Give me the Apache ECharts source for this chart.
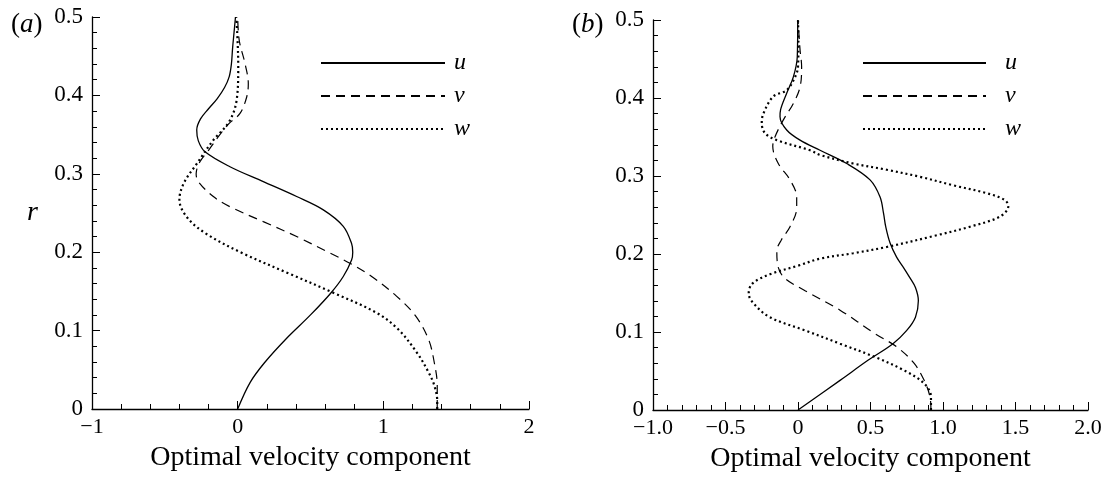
<!DOCTYPE html>
<html>
<head>
<meta charset="utf-8">
<script src="https://cdn.jsdelivr.net/npm/echarts@6/dist/echarts.min.js"></script>
<style>html,body{margin:0;padding:0;background:#fff}#c{width:1109px;height:479px}</style>
</head>
<body>
<div id="c"></div>
<script>
// ---- data: [x, r] pairs ----
const panelA_u = [[0,0],[0.086,0.034],[0.184,0.059],[0.33,0.089],[0.50,0.12],[0.64,0.148],[0.725,0.169],[0.782,0.19],[0.79,0.2],[0.782,0.211],[0.725,0.233],[0.588,0.254],[0.405,0.271],[0.176,0.29],[-0.053,0.309],[-0.224,0.328],[-0.27,0.342],[-0.281,0.356],[-0.255,0.37],[-0.2,0.383],[-0.14,0.396],[-0.09,0.41],[-0.058,0.424],[-0.043,0.44],[-0.035,0.46],[-0.025,0.48],[-0.015,0.5]];
const panelA_v = [[1.37,0],[1.37,0.03],[1.35,0.059],[1.31,0.089],[1.22,0.119],[1.09,0.144],[0.92,0.169],[0.77,0.186],[0.633,0.199],[0.405,0.22],[0.176,0.239],[-0.053,0.258],[-0.167,0.271],[-0.27,0.29],[-0.285,0.3],[-0.26,0.315],[-0.2,0.33],[-0.13,0.348],[-0.06,0.364],[0.016,0.377],[0.062,0.398],[0.073,0.415],[0.05,0.441],[0.011,0.47],[0,0.5]];
const panelA_w = [[1.37,0],[1.37,0.01],[1.35,0.03],[1.31,0.047],[1.23,0.072],[1.1,0.102],[0.95,0.123],[0.66,0.148],[0.35,0.173],[0.03,0.199],[-0.22,0.224],[-0.35,0.245],[-0.40,0.267],[-0.37,0.288],[-0.28,0.313],[-0.167,0.343],[-0.06,0.366],[-0.007,0.394],[0.004,0.437],[-0.003,0.479],[-0.01,0.5]];
const panelB_u = [[0,0],[0.29,0.038],[0.485,0.064],[0.655,0.085],[0.75,0.102],[0.81,0.119],[0.83,0.14],[0.81,0.157],[0.77,0.17],[0.73,0.182],[0.68,0.196],[0.635,0.214],[0.605,0.235],[0.59,0.252],[0.566,0.273],[0.497,0.295],[0.336,0.316],[0.152,0.333],[0.014,0.346],[-0.078,0.359],[-0.124,0.376],[-0.12,0.385],[-0.078,0.406],[-0.032,0.427],[-0.005,0.453],[-0.002,0.5]];
const panelB_v = [[0.917,0],[0.91,0.017],[0.87,0.038],[0.80,0.06],[0.68,0.081],[0.53,0.098],[0.29,0.128],[0.049,0.153],[-0.097,0.17],[-0.141,0.187],[-0.146,0.204],[-0.115,0.218],[-0.055,0.235],[-0.009,0.259],[-0.009,0.273],[-0.055,0.295],[-0.136,0.316],[-0.174,0.338],[-0.159,0.35],[-0.101,0.372],[-0.032,0.393],[0.014,0.414],[0.025,0.44],[0.014,0.462],[0,0.5]];
const panelB_w = [[0.917,0],[0.917,0.017],[0.87,0.034],[0.73,0.051],[0.53,0.068],[0.29,0.085],[0.049,0.102],[-0.194,0.119],[-0.303,0.136],[-0.34,0.149],[-0.315,0.162],[-0.194,0.174],[0.0,0.185],[0.152,0.194],[0.381,0.201],[0.612,0.209],[0.957,0.224],[1.186,0.235],[1.393,0.248],[1.45,0.261],[1.428,0.269],[1.301,0.278],[1.071,0.288],[0.841,0.299],[0.612,0.308],[0.381,0.316],[0.152,0.327],[0.083,0.333],[-0.147,0.346],[-0.228,0.355],[-0.25,0.368],[-0.239,0.38],[-0.17,0.402],[-0.078,0.41],[-0.02,0.427],[0,0.44],[0.003,0.47],[0,0.5]];

// ---- tick labels ----
const xTicksA = ['\u22121','0','1','2'];
const xTicksB = ['\u22121.0','\u22120.5','0','0.5','1.0','1.5','2.0'];
const yTicks = ['0','0.1','0.2','0.3','0.4','0.5'];
const seriesNames = ['u','v','w'];
const xName = 'Optimal velocity component';
const yName = 'r';

const FONT = 'Liberation Serif';
const styles = {
  u: {color:'#000', width:1.3, type:'solid'},
  v: {color:'#000', width:1.2, type:[9,6]},
  w: {color:'#000', width:2.2, type:[2,3]}
};

function lbl(arr, min, step){
  return function(v){ const i = Math.round((v - min)/step); return arr[i] !== undefined ? arr[i] : ''; };
}
function xAxis(grid, min, max, interval, labels){
  return {
    type:'value', gridIndex:grid, min:min, max:max, interval:interval,
    name:xName, nameLocation:'middle', nameGap:35,
    nameTextStyle:{fontFamily:FONT, fontSize:28, color:'#000'},
    axisLine:{show:true, onZero:false, lineStyle:{color:'#000', width:1.3}},
    axisTick:{show:true, inside:true, length:8, lineStyle:{color:'#000', width:1}},
    minorTick:{show:true, splitNumber:5, length:5, lineStyle:{color:'#000', width:1}},
    axisLabel:{fontFamily:FONT, fontSize:22, color:'#000', margin:7, formatter:lbl(labels, min, interval), showMinLabel:true, showMaxLabel:true},
    splitLine:{show:false}, minorSplitLine:{show:false}
  };
}
function yAxis(grid, showName){
  return {
    type:'value', gridIndex:grid, min:0, max:0.5, interval:0.1,
    name: showName ? yName : '', nameLocation:'middle', nameGap:54, nameRotate:0,
    nameTextStyle:{fontFamily:FONT, fontSize:28, fontStyle:'italic', color:'#000'},
    axisLine:{show:true, onZero:false, lineStyle:{color:'#000', width:1.3}},
    axisTick:{show:true, inside:true, length:8, lineStyle:{color:'#000', width:1}},
    minorTick:{show:true, splitNumber:5, length:5, lineStyle:{color:'#000', width:1}},
    axisLabel:{fontFamily:FONT, fontSize:23, color:'#000', margin:9, formatter:lbl(yTicks, 0, 0.1), showMinLabel:true, showMaxLabel:true},
    splitLine:{show:false}, minorSplitLine:{show:false}
  };
}
function mk(name, data, idx){
  return {
    name:name, type:'line', xAxisIndex:idx, yAxisIndex:idx, data:data,
    smooth:0.35, symbol:'none', showSymbol:false, silent:true, animation:false,
    lineStyle:{color:styles[name].color, width:styles[name].width, type:styles[name].type, cap:'butt'},
    itemStyle:{color:'#000'}
  };
}
function legend(left, width, pad){
  return {
    left:left, top:51, padding:0, orient:'vertical', itemWidth:width, itemHeight:14, itemGap:9,
    data:seriesNames, selectedMode:false,
    itemStyle:{color:'rgba(0,0,0,0)', borderWidth:0, opacity:0},
    textStyle:{fontFamily:FONT, fontSize:24, fontStyle:'italic', color:'#000', padding:[0,0,0,pad]}
  };
}
const titleRich = {p:{fontFamily:FONT,fontSize:27,fontWeight:'normal',color:'#000'}, i:{fontFamily:FONT,fontSize:27,fontStyle:'italic',fontWeight:'normal',color:'#000'}};

const chart = echarts.init(document.getElementById('c'), null, {renderer:'canvas'});
chart.setOption({
  backgroundColor:'#fff',
  animation:false,
  title:[
    {text:'{p|(}{i|a}{p|)}', left:6, top:6, textStyle:{fontWeight:'normal', rich:titleRich}},
    {text:'{p|(}{i|b}{p|)}', left:567, top:6, textStyle:{fontWeight:'normal', rich:titleRich}}
  ],
  grid:[
    {left:92, top:17, width:437, height:392},
    {left:653, top:20, width:435, height:390}
  ],
  legend:[legend(320, 124, 4), legend(862, 123, 14)],
  xAxis:[xAxis(0, -1, 2, 1, xTicksA), xAxis(1, -1, 2, 0.5, xTicksB)],
  yAxis:[yAxis(0, true), yAxis(1, false)],
  series:[
    mk('u', panelA_u, 0), mk('v', panelA_v, 0), mk('w', panelA_w, 0),
    mk('u', panelB_u, 1), mk('v', panelB_v, 1), mk('w', panelB_w, 1)
  ]
});
</script>
</body>
</html>
